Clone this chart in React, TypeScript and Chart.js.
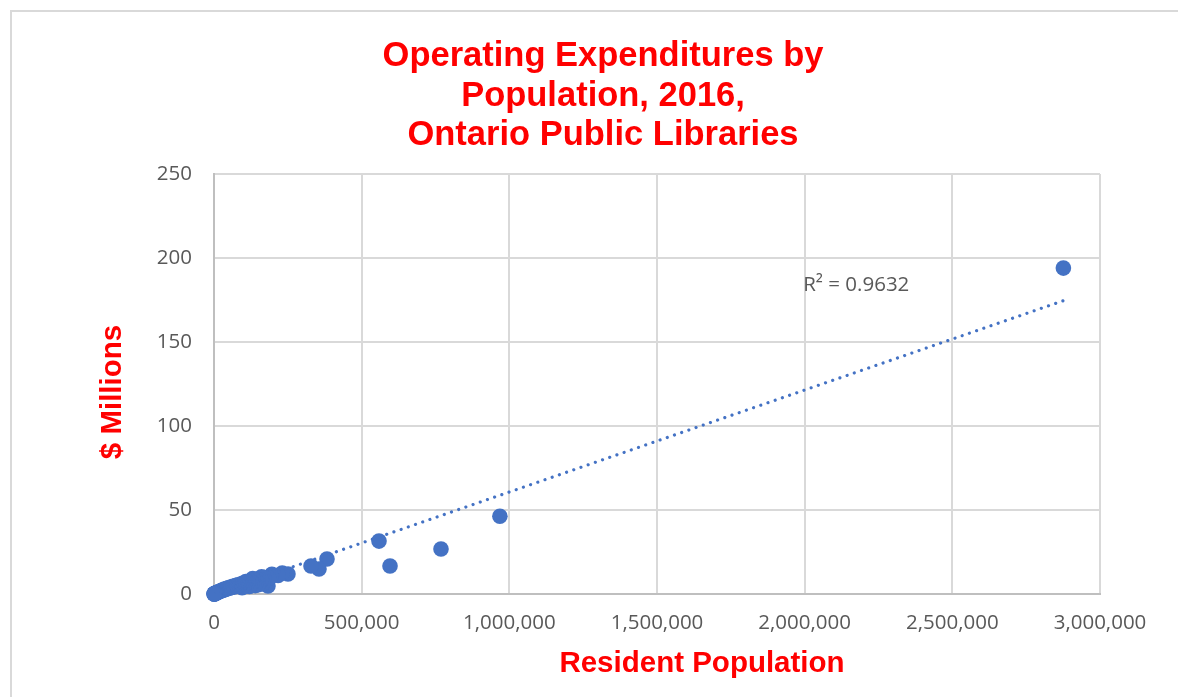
import { useEffect, useRef } from "react";
import { Chart, registerables } from "chart.js";

Chart.register(...registerables);

// ---- data (resident population, operating expenditures in $ millions) ----
const POPULATION = [
  2876000, 968000, 768600, 596000, 558700, 382600, 355500, 328400, 250500, 182800,
  231000, 217000, 196000, 193000, 186000, 170000, 165000, 161000, 160000, 150000,
  147000, 141000, 140000, 135000, 131000, 129000, 128000, 123000, 120000, 115000,
  108000, 104000, 102000, 97000, 95000, 91000, 88000, 84000, 81000, 76000,
  73000, 68000, 64000, 60000, 57000, 52000, 48000, 45000, 42000, 39000,
  36000, 33000, 30000, 28000, 25000, 22000, 20000, 18000, 16000, 14000,
  12000, 10500, 9000, 8000, 7000, 6000, 5000, 4200, 3500, 2800,
  2200, 1600, 1200, 800, 500, 300,
];
const EXPENDITURE = [
  194.0, 46.3, 26.8, 16.7, 31.5, 20.8, 14.9, 16.7, 11.9, 4.8,
  12.5, 11.0, 11.8, 10.4, 9.5, 9.8, 6.2, 10.2, 8.2, 5.5,
  8.6, 7.9, 5.0, 5.4, 9.2, 6.9, 6.0, 7.6, 4.5, 7.0,
  7.4, 6.5, 4.9, 6.3, 3.8, 5.9, 5.4, 4.9, 5.5, 4.6,
  5.0, 4.2, 4.6, 3.9, 4.2, 3.5, 3.7, 3.1, 3.3, 2.7,
  2.9, 2.4, 2.5, 2.1, 2.0, 1.8, 1.6, 1.5, 1.3, 1.1,
  1.0, 0.85, 0.7, 0.65, 0.55, 0.5, 0.4, 0.35, 0.3, 0.25,
  0.2, 0.15, 0.1, 0.08, 0.05, 0.03,
];

// linear trendline
const TREND_SLOPE = 6.07e-5;
const TREND_INTERCEPT = 0;
const R2_TEXT = "R\u00B2 = 0.9632";
const R2_ANCHOR = { x: 1995000, y: 180.5 };

const TITLE_LINES = ["Operating Expenditures by", "Population, 2016,", "Ontario Public Libraries"];
const X_TITLE = "Resident Population";
const Y_TITLE = "$ Millions";

const X_MIN = 0;
const X_MAX = 3000000;
const X_STEP = 500000;
const Y_MIN = 0;
const Y_MAX = 250;
const Y_STEP = 50;

const BLUE = "#4472C4";
const RED = "#FF0000";
const GREY_TEXT = "#595959";
const TICK_FONT = { family: "'Open Sans', sans-serif", size: 20.5 };

const textPlugin = {
  id: "textPlugin",
  afterDraw(chart: any) {
    const ctx = chart.ctx as CanvasRenderingContext2D;
    const xs = chart.scales.x;
    const ys = chart.scales.y;
    ctx.save();
    // outer frame (left and top edges visible)
    ctx.strokeStyle = "#d9d9d9";
    ctx.lineWidth = 2;
    ctx.beginPath();
    ctx.moveTo(11, 700);
    ctx.lineTo(11, 11);
    ctx.lineTo(1180, 11);
    ctx.stroke();

    // title
    ctx.fillStyle = RED;
    ctx.font = "bold 34.5px 'Liberation Sans', Arial, sans-serif";
    ctx.textAlign = "center";
    ctx.textBaseline = "alphabetic";
    const baselines = [66, 105.5, 145];
    TITLE_LINES.forEach((t, i) => ctx.fillText(t, 603, baselines[i]));

    // axis titles
    ctx.font = "bold 29.5px 'Liberation Sans', Arial, sans-serif";
    ctx.fillText(X_TITLE, 702, 672);
    ctx.save();
    ctx.translate(121, 392);
    ctx.rotate(-Math.PI / 2);
    ctx.fillText(Y_TITLE, 0, 0);
    ctx.restore();

    // R² label
    ctx.fillStyle = GREY_TEXT;
    ctx.font = "20.5px 'Open Sans', sans-serif";
    ctx.textAlign = "left";
    ctx.fillText(R2_TEXT, xs.getPixelForValue(R2_ANCHOR.x), ys.getPixelForValue(R2_ANCHOR.y));
    ctx.restore();
  },
};

export default function App() {
  const ref = useRef<HTMLCanvasElement | null>(null);

  useEffect(() => {
    if (!ref.current) return;
    const points = POPULATION.map((p, i) => ({ x: p, y: EXPENDITURE[i] }));
    const minX = Math.min(...POPULATION);
    const maxX = Math.max(...POPULATION);
    const trend = [
      { x: minX, y: TREND_INTERCEPT + TREND_SLOPE * minX },
      { x: maxX, y: TREND_INTERCEPT + TREND_SLOPE * maxX },
    ];
    const chart = new Chart(ref.current, {
      type: "scatter",
      data: {
        datasets: [
          {
            label: "Libraries",
            data: points,
            backgroundColor: BLUE,
            borderColor: BLUE,
            borderWidth: 0,
            pointRadius: 7.8,
            pointHoverRadius: 7.8,
            clip: false,
            order: 2,
          } as any,
          {
            label: "Trend",
            data: trend,
            showLine: true,
            borderColor: BLUE,
            borderWidth: 3.2,
            borderDash: [0.01, 7.6],
            borderCapStyle: "round",
            pointRadius: 0,
            fill: false,
            order: 1,
          } as any,
        ],
      },
      options: {
        animation: false,
        responsive: false,
        events: [],
        layout: { padding: { top: 174, right: 78, left: 0, bottom: 0 } },
        plugins: {
          legend: { display: false },
          title: { display: false },
          tooltip: { enabled: false },
        },
        scales: {
          x: {
            type: "linear",
            min: X_MIN,
            max: X_MAX,
            afterFit: (s: any) => {
              s.height = 103;
            },
            ticks: {
              stepSize: X_STEP,
              color: GREY_TEXT,
              font: TICK_FONT,
              padding: 17,
              maxRotation: 0,
              callback: (v: any) => Number(v).toLocaleString("en-US"),
            },
            grid: { color: "#d9d9d9", lineWidth: 2, drawTicks: false },
            border: { color: "#bfbfbf", width: 2 },
          },
          y: {
            type: "linear",
            min: Y_MIN,
            max: Y_MAX,
            afterFit: (s: any) => {
              s.width = 214;
            },
            ticks: {
              stepSize: Y_STEP,
              color: GREY_TEXT,
              font: TICK_FONT,
              padding: 22,
            },
            grid: { color: "#d9d9d9", lineWidth: 2, drawTicks: false },
            border: { color: "#bfbfbf", width: 2 },
          },
        },
      },
      plugins: [textPlugin],
    });
    return () => chart.destroy();
  }, []);

  return (
    <div style={{ position: "absolute", left: 0, top: 0, width: 1178, height: 697, background: "#fff" }}>
      <canvas ref={ref} width={1178} height={697} style={{ width: 1178, height: 697, display: "block" }} />
    </div>
  );
}
